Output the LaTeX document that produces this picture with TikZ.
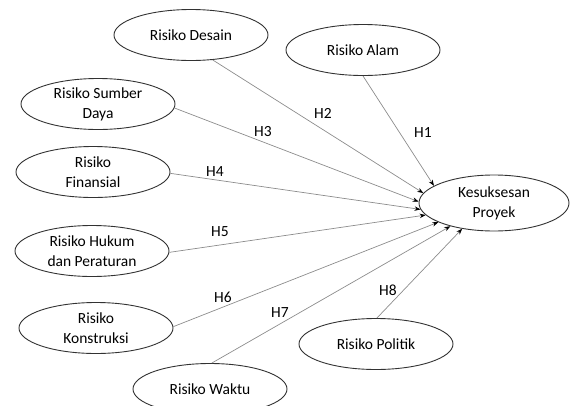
\documentclass[tikz,border=0pt]{standalone}
\usepackage{fontspec}
\setmainfont{Carlito}
\usepackage{tikz}
\usetikzlibrary{
    positioning,
    arrows.meta,
    shapes.geometric
}
\definecolor{lineGray}{RGB}{140, 140, 140}
\definecolor{edgeDark}{RGB}{50, 50, 50}

\tikzset{
    risk/.style={ellipse, draw=edgeDark, line width=0.9pt, minimum width=154pt,
        minimum height=51pt, inner sep=0pt, align=center,
        font=\fontsize{15.5}{20}\selectfont},
    path/.style={draw=lineGray, line width=0.7pt,
        -{Stealth[length=6pt, width=4.5pt, color=black]}},
    hyp/.style={font=\fontsize{15.5}{20}\selectfont}
}

\begin{document}
\begin{tikzpicture}[x=1pt, y=-1pt]
        \useasboundingbox (0,0) rectangle (571,405);
        \clip (0,0) rectangle (571,405);

        % outcome
        \node[risk, minimum width=150pt, minimum height=56pt] (kp) at (494,203) {Kesuksesan\\Proyek};

        % risk factors
        \node[risk] (alam) at (363,50) {Risiko Alam};
        \node[risk] (desain) at (191,35) {Risiko Desain};
        \node[risk] (sdaya) at (98,104) {Risiko Sumber\\Daya};
        \node[risk] (finansial) at (93,172) {Risiko\\Finansial};
        \node[risk] (hukum) at (92,251) {Risiko Hukum\\dan Peraturan};
        \node[risk] (konstruksi) at (96,328) {Risiko\\Konstruksi};
        \node[risk] (waktu) at (210,389) {Risiko Waktu};
        \node[risk] (politik) at (376,344) {Risiko Politik};

        % hypotheses
        \draw[path] (alam.270) -- (kp.164);
        \draw[path] (desain.311) -- (kp.172);
        \draw[path] (sdaya.357) -- (kp.179);
        \draw[path] (finansial.359) -- (kp.185);
        \draw[path] (hukum.359) -- (kp.190);
        \draw[path] (konstruksi.1) -- (kp.199);
        \draw[path] (waktu.86) -- (kp.208);
        \draw[path] (politik.88) -- (kp.219);

        \node[hyp] (h1) at (423,133) {H1};
        \node[hyp] (h2) at (323,113) {H2};
        \node[hyp] (h3) at (263,132) {H3};
        \node[hyp] (h4) at (215,172) {H4};
        \node[hyp] (h5) at (220,232) {H5};
        \node[hyp] (h6) at (223,297) {H6};
        \node[hyp] (h7) at (280,313) {H7};
        \node[hyp] (h8) at (388,290) {H8};
    \end{tikzpicture}
\end{document}
